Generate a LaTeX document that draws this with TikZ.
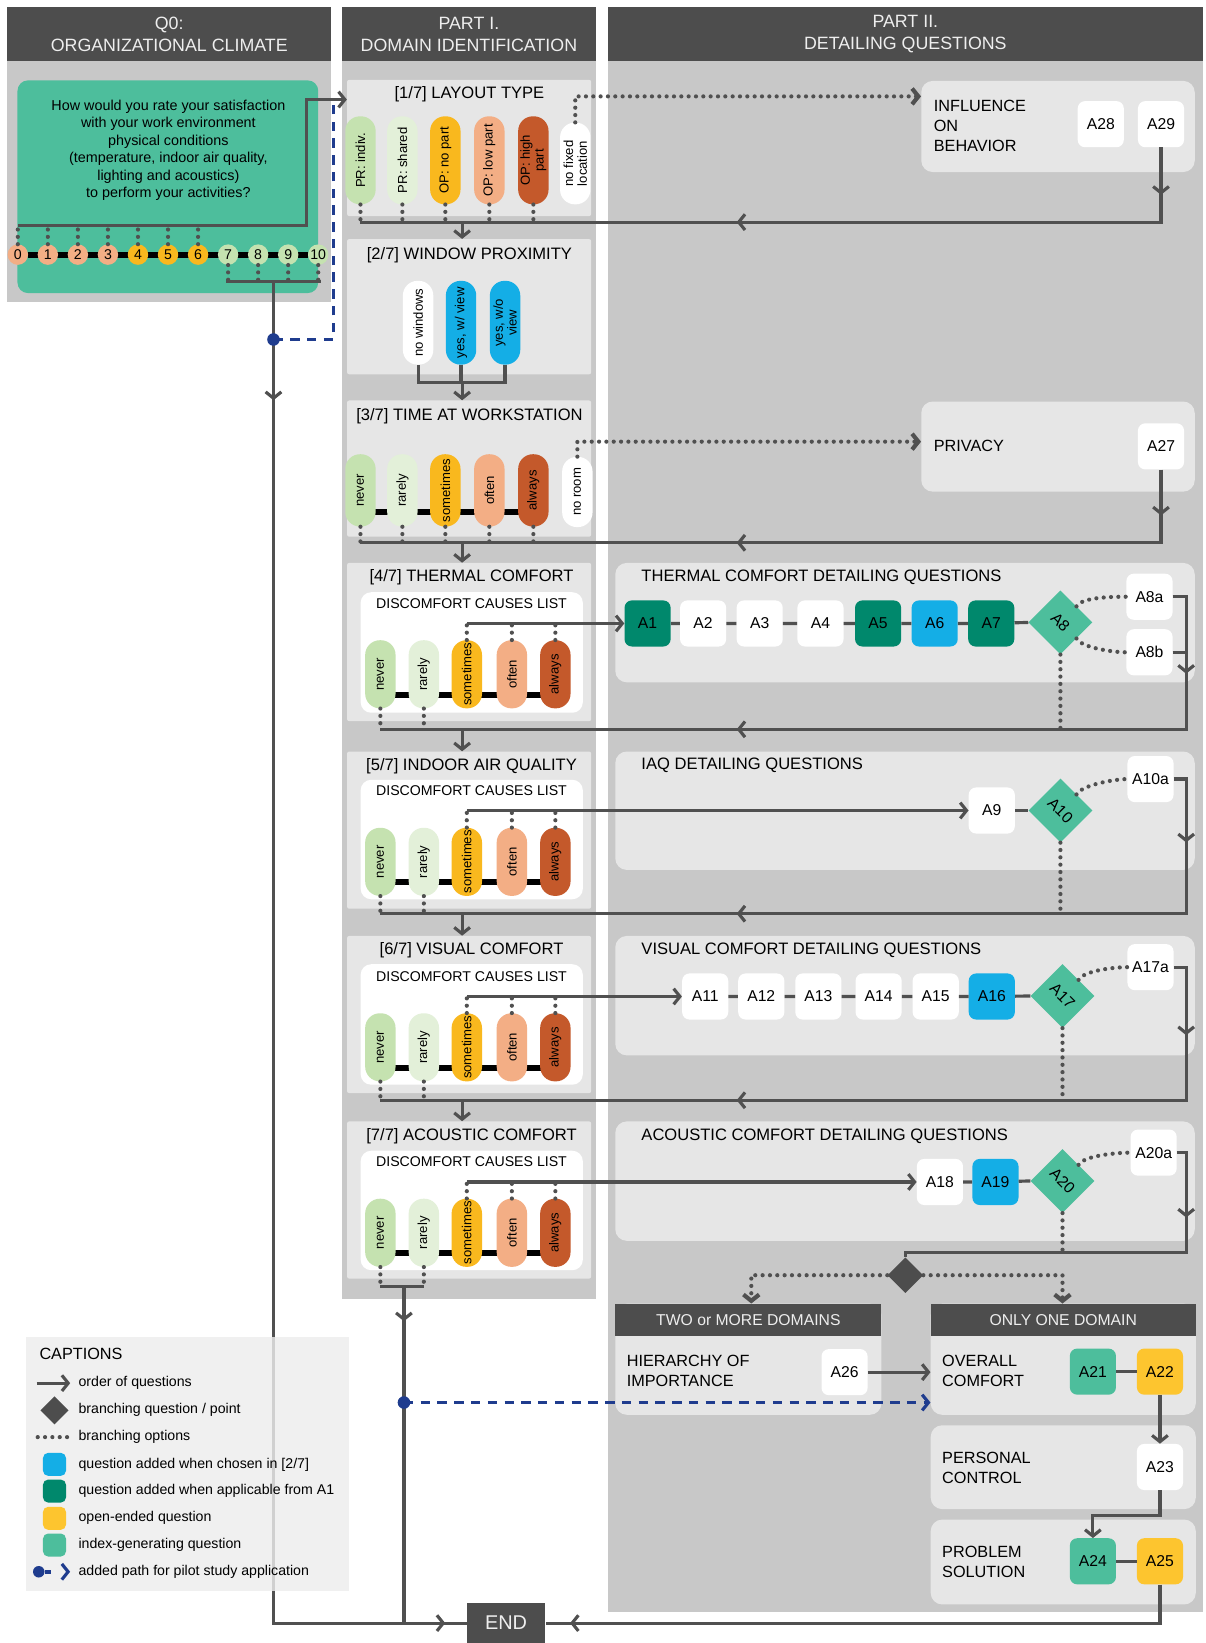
\documentclass[tikz,border=0pt]{standalone}
\usepackage{fontspec}
\setmainfont{Liberation Sans}
\usetikzlibrary{arrows.meta,shapes.geometric,calc}
\definecolor{hdr}{HTML}{4D4D4D}
\definecolor{colbg}{HTML}{C8C8C8}
\definecolor{boxbg}{HTML}{E6E6E6}
\definecolor{capbg}{HTML}{EDEDED}
\definecolor{ln}{HTML}{505050}
\definecolor{idx}{HTML}{4DBE9C}
\definecolor{dteal}{HTML}{00886C}
\definecolor{qblue}{HTML}{14AEE6}
\definecolor{oyel}{HTML}{FDC52F}
\definecolor{pyel}{HTML}{F9B81E}
\definecolor{salm}{HTML}{F3AE85}
\definecolor{dora}{HTML}{C4592B}
\definecolor{lgr}{HTML}{C5E2B0}
\definecolor{vlgr}{HTML}{E3F0D9}
\definecolor{pilot}{HTML}{1F3C8E}
\definecolor{htxt}{HTML}{EEEEEE}
\newcommand\fsz[2]{\fontsize{#1}{#2}\selectfont}
\pgfdeclarelayer{bg}
\pgfdeclarelayer{mid}
\pgfsetlayers{bg,mid,main}
\begin{document}
\begin{tikzpicture}[x=1pt,y=-1pt,
 conn/.style={draw=ln,line width=3pt},
 arr/.style={-{Straight Barb[length=6pt,width=15pt]}},
 dots/.style={draw=ln,line width=4pt,line cap=round,dash pattern=on 0pt off 7pt},
 pdash/.style={draw=pilot,line width=3pt,dash pattern=on 9pt off 7pt},
 blackbar/.style={draw=black,line width=5.5pt},
 hdrbox/.style={fill=hdr,text=htxt,inner sep=0pt,align=center,font=\fsz{17}{21}},
 pbox/.style={fill=boxbg,anchor=north west,inner sep=0pt,rounded corners=2pt},
 dbox/.style={fill=boxbg,anchor=north west,inner sep=0pt,rounded corners=11pt},
 wbox/.style={fill=white,anchor=north west,inner sep=0pt,rounded corners=10pt},
 ttl/.style={font=\fsz{15.8}{19}},
 subt/.style={font=\fsz{13.5}{16}},
 lbl/.style={font=\fsz{15.5}{19},align=left,anchor=west,inner sep=0pt},
 pill/.style={rotate=90,rounded corners=14pt,minimum height=29,inner sep=1pt,font=\fsz{12.5}{13},align=center},
 qn/.style={rounded corners=7pt,minimum width=44,minimum height=44,inner sep=0pt,font=\fsz{15}{18}},
 dia/.style={rectangle,fill=idx,minimum width=43,minimum height=43,rotate=-45,inner sep=0pt,font=\fsz{15}{18}},
 sc/.style={circle,minimum size=19.5,inner sep=0pt,font=\fsz{13.5}{14}},
 capt/.style={font=\fsz{13.5}{16},anchor=west,inner sep=0pt},
 chev/.pic={\draw[line width=3pt,draw=#1] (-6,-7.5) -- (0,0) -- (-6,7.5);},
]
\useasboundingbox (0,0) rectangle (1150,1568);
% ================= BACKGROUND LAYER =================
\begin{pgfonlayer}{bg}
\fill[white] (0,0) rectangle (1150,1568);
\fill[colbg] (7,58) rectangle (316,288);
\fill[colbg] (326,58) rectangle (569,1240);
\fill[colbg] (580,58) rectangle (1148,1538);
\node[fill=idx,anchor=north west,inner sep=0pt,rounded corners=10pt,minimum width=287,minimum height=203] (q0box) at (16.5,76.5) {};
% Part I boxes
\node[pbox,minimum width=233,minimum height=130] (lay) at (331,76) {};
\node[pbox,minimum width=233,minimum height=129] (win) at (331,228) {};
\node[pbox,minimum width=233,minimum height=130] (tim) at (331,382) {};
\node[pbox,minimum width=233,minimum height=151] (thb) at (331,537) {};
\node[pbox,minimum width=233,minimum height=150] (iab) at (331,717) {};
\node[pbox,minimum width=233,minimum height=150] (vib) at (331,893) {};
\node[pbox,minimum width=233,minimum height=150] (acb) at (331,1070) {};
\node[wbox,minimum width=212,minimum height=115] (thi) at (344,565) {};
\node[wbox,minimum width=212,minimum height=114] (iai) at (344,744) {};
\node[wbox,minimum width=212,minimum height=115] (vii) at (344,920) {};
\node[wbox,minimum width=212,minimum height=114] (aci) at (344,1098) {};
% Part II boxes
\node[dbox,minimum width=261,minimum height=87] (inf) at (879,77) {};
\node[dbox,minimum width=261,minimum height=86] (priv) at (879,383) {};
\node[dbox,minimum width=553,minimum height=114] (tdq) at (587,537) {};
\node[dbox,minimum width=553,minimum height=113] (idq) at (587,717) {};
\node[dbox,minimum width=553,minimum height=114] (vdq) at (587,893) {};
\node[dbox,minimum width=553,minimum height=114] (adq) at (587,1070) {};
\node[dbox,minimum width=254,minimum height=106] (twob) at (587,1244) {};
\node[dbox,minimum width=253,minimum height=106] (oc) at (888,1244) {};
\node[dbox,minimum width=253,minimum height=80] (pc) at (888,1360) {};
\node[dbox,minimum width=253,minimum height=81] (ps) at (888,1450) {};
\node[hdrbox,anchor=north west,minimum width=254,minimum height=31,font=\fsz{15}{18}] (twoh) at (587,1244) {TWO or MORE DOMAINS};
\node[hdrbox,anchor=north west,minimum width=253,minimum height=31,font=\fsz{15}{18}] (oneh) at (888,1244) {ONLY ONE DOMAIN};
\end{pgfonlayer}
% ================= HEADERS =================
\node[hdrbox,minimum width=309,minimum height=51] (h0) at (161.5,32.5) {Q0:\\ORGANIZATIONAL CLIMATE};
\node[hdrbox,minimum width=243,minimum height=51] (h1) at (447.5,32.5) {PART I.\\DOMAIN IDENTIFICATION};
\node[hdrbox,minimum width=568,minimum height=51] (h2) at (864,32.5) {PART II.\\DETAILING QUESTIONS};
\node[hdrbox,minimum width=75,minimum height=38,font=\fsz{19}{22}] (endbox) at (483,1549) {END};
% ================= Q0 =================
\node[font=\fsz{13.7}{16.6},align=center] (q0t) at (160.7,143.5) {How would you rate your satisfaction\\with your work environment\\physical conditions\\(temperature, indoor air quality,\\lighting and acoustics)\\to perform your activities?};
\foreach \i/\c in {0/salm,1/salm,2/salm,3/salm,4/pyel,5/pyel,6/pyel,7/lgr,8/lgr,9/lgr,10/lgr}
  \node[sc,fill=\c] (s\i) at ({17+28.67*\i},243) {\i};
\begin{pgfonlayer}{mid}
\draw[blackbar] (s0) -- (s10);
\end{pgfonlayer}
\coordinate (q0l) at (17,215);
\coordinate (q0c) at (292.5,215);
\coordinate (q0u) at (292.5,95);
\foreach \i in {0,...,6} \draw[dots] (s\i.north) -- (s\i.north |- q0l);
\coordinate (pdt) at (318,95);
\coordinate (pdc) at (318,324);
\coordinate (pd1) at (261,324);
\draw[pdash] (pd1) -- (pdc) -- (pdt);
\draw[conn,arr] (q0l) -- (q0c) -- (q0u) -- (q0u -| lay.west);
\coordinate (q0bl) at (216,269);
\coordinate (q0br) at (306,269);
\coordinate (q0bm) at (261,269);
\coordinate (endl) at (261,1549);
\foreach \i in {7,...,10} \draw[dots] (s\i.south) -- (s\i.south |- q0bl);
\draw[conn] (q0bl) -- (q0br);
\draw[conn] (q0bm) -- (endl) -- (endbox.west);
\pic[rotate=-90] at (261,380) {chev=ln};
\pic at (423,1549) {chev=ln};
\node[circle,fill=pilot,minimum size=12,inner sep=0pt] (pdot1) at (pd1) {};
% ================= PART I =================
\node[ttl] (tt1) at (448,90) {{}[1/7] LAYOUT TYPE};
\node[ttl] (tt2) at (448,244) {{}[2/7] WINDOW PROXIMITY};
\node[ttl] (tt3) at (448,397) {{}[3/7] TIME AT WORKSTATION};
\node[ttl] (tt4) at (450,551) {{}[4/7] THERMAL COMFORT};
\node[ttl] (tt5) at (450,731) {{}[5/7] INDOOR AIR QUALITY};
\node[ttl] (tt6) at (450,907) {{}[6/7] VISUAL COMFORT};
\node[ttl] (tt7) at (450,1084) {{}[7/7] ACOUSTIC COMFORT};
\node[subt] (st4) at (450,576) {DISCOMFORT CAUSES LIST};
\node[subt] (st5) at (450,755) {DISCOMFORT CAUSES LIST};
\node[subt] (st6) at (450,932) {DISCOMFORT CAUSES LIST};
\node[subt] (st7) at (450,1109) {DISCOMFORT CAUSES LIST};
% [1/7]
\node[pill,minimum width=84,fill=lgr] (l1) at (344,153) {PR: indiv.};
\node[pill,minimum width=84,fill=vlgr] (l2) at (384,153) {PR: shared};
\node[pill,minimum width=84,fill=pyel] (l3) at (425,153) {OP: no part};
\node[pill,minimum width=84,fill=salm] (l4) at (467,153) {OP: low part};
\node[pill,minimum width=84,fill=dora] (l5) at (509,153) {OP: high\\part};
\node[pill,minimum width=78,fill=white] (l6) at (549,156) {no fixed\\location};
\coordinate (lb) at (344,212);
\coordinate (ld) at (441,212);
\coordinate (lt) at (549,92);
\foreach \i in {1,...,5} \draw[dots] (l\i.west) -- (l\i.west |- lb);
\draw[dots,arr] (l6.east) -- (l6.east |- lt) -- (lt -| inf.west);
% [2/7]
\node[pill,minimum width=80,fill=white] (w1) at (399,308) {no windows};
\node[pill,minimum width=80,fill=qblue] (w2) at (440,308) {yes, w/ view};
\node[pill,minimum width=80,fill=qblue] (w3) at (482,308) {yes, w/o\\view};
\coordinate (wb) at (399,365);
\coordinate (wd) at (441,365);
\draw[conn] (w1.west) -- (w1.west |- wb) -- (w3.west |- wb) -- (w3.west);
\draw[conn] (w2.west) -- (w2.west |- wb);
\draw[conn,arr] (ld) -- (ld |- win.north);
\draw[conn,arr] (wd) -- (wd |- tim.north);
% [3/7]
\node[pill,minimum width=69,fill=lgr] (t1) at (344,468) {never};
\node[pill,minimum width=69,fill=vlgr] (t2) at (384,468) {rarely};
\node[pill,minimum width=69,fill=pyel] (t3) at (425,468) {sometimes};
\node[pill,minimum width=69,fill=salm] (t4) at (467,468) {often};
\node[pill,minimum width=69,fill=dora] (t5) at (509,468) {always};
\node[pill,minimum width=67,fill=white] (t6) at (551,469.5) {no room};
\begin{pgfonlayer}{mid}
\draw[blackbar] ($(t1)+(0,20.5)$) -- ($(t5)+(0,20.5)$);
\end{pgfonlayer}
\coordinate (tb) at (344,518);
\coordinate (tdn) at (441,518);
\coordinate (pt) at (551,421.5);
\foreach \i in {1,...,5} \draw[dots] (t\i.west) -- (t\i.west |- tb);
\draw[dots,arr] (t6.east) -- (t6.east |- pt) -- (pt -| priv.west);
\draw[conn,arr] (tdn) -- (tdn |- thb.north);
% [4/7]..[7/7] pills
\foreach \p/\o in {th/0,ia/179,vi/356,ac/533} {
  \node[pill,minimum width=65,fill=lgr] (\p1) at (363,643.5+\o) {never};
  \node[pill,minimum width=65,fill=vlgr] (\p2) at (404.5,643.5+\o) {rarely};
  \node[pill,minimum width=65,fill=pyel] (\p3) at (445.5,643.5+\o) {sometimes};
  \node[pill,minimum width=65,fill=salm] (\p4) at (488.5,643.5+\o) {often};
  \node[pill,minimum width=65,fill=dora] (\p5) at (530,643.5+\o) {always};
  \begin{pgfonlayer}{mid}
  \draw[blackbar] ($(\p1)+(0,19.5)$) -- ($(\p5)+(0,19.5)$);
  \end{pgfonlayer}
}
% ================= PART II =================
% Influence on behavior
\node[lbl] (tinf) at (891,120) {INFLUENCE\\ON\\BEHAVIOR};
\node[qn,fill=white] (a28) at (1050.5,118.5) {A28};
\node[qn,fill=white] (a29) at (1108,118.5) {A29};
\draw[conn] (a29.south) -- (a29.south |- lb) -- (lb);
\pic[rotate=-90] at (1108,184) {chev=ln};
\pic[rotate=180] at (705,212) {chev=ln};
% Privacy
\node[lbl] (tpriv) at (891,426) {PRIVACY};
\node[qn,fill=white] (a27) at (1108,426) {A27};
\draw[conn] (a27.south) -- (a27.south |- tb) -- (tb);
\pic[rotate=-90] at (1108,490) {chev=ln};
\pic[rotate=180] at (705,518) {chev=ln};
% Thermal
\node[ttl,anchor=west,inner sep=0pt] (ttdq) at (612,551) {THERMAL COMFORT DETAILING QUESTIONS};
\node[qn,fill=dteal] (a1) at (618,595) {A1};
\node[qn,fill=white] (a2) at (671,595) {A2};
\node[qn,fill=white] (a3) at (725,595) {A3};
\node[qn,fill=white] (a4) at (783,595) {A4};
\node[qn,fill=dteal] (a5) at (838,595) {A5};
\node[qn,fill=qblue] (a6) at (892,595) {A6};
\node[qn,fill=dteal] (a7) at (946,595) {A7};
\node[dia] (a8) at (1012,594) {A8};
\node[qn,fill=white] (a8a) at (1097,569.5) {A8a};
\node[qn,fill=white] (a8b) at (1097,622.5) {A8b};
\draw[conn] (a1) -- (a2) -- (a3) -- (a4) -- (a5) -- (a6) -- (a7) -- (a8.south west);
\draw[dots] (a8.north) .. controls +(5,-9) and +(-12,0) .. (a8a.west);
\draw[dots] (a8.east) .. controls +(5,9) and +(-12,0) .. (a8b.west);
\foreach \i in {3,4,5} \draw[dots] (th\i.east) -- (th\i.east |- a1.west);
\draw[conn,arr] (th3.east |- a1.west) -- (a1.west);
\coordinate (thl) at (363,696);
\coordinate (tvx) at (1132,696);
\coordinate (thd) at (441,696);
\draw[conn] (a8a.east) -- (a8a.east -| tvx) -- (tvx) -- (thl);
\draw[conn] (a8b.east) -- (a8b.east -| tvx);
\draw[dots] (a8.south east) -- (a8.south east |- tvx);
\foreach \i in {1,2} \draw[dots] (th\i.west) -- (th\i.west |- thl);
\draw[conn,arr] (thd) -- (thd |- iab.north);
\pic[rotate=-90] at (1132,641) {chev=ln};
\pic[rotate=180] at (705,696) {chev=ln};
% IAQ
\node[ttl,anchor=west,inner sep=0pt] (tidq) at (612,730) {IAQ DETAILING QUESTIONS};
\node[qn,fill=white] (a9) at (946.5,773.5) {A9};
\node[dia] (a10) at (1012,773.5) {A10};
\node[qn,fill=white] (a10a) at (1098,743.5) {A10a};
\draw[conn] (a9) -- (a10.south west);
\draw[dots] (a10.north) .. controls +(5,-9) and +(-12,0) .. (a10a.west);
\foreach \i in {3,4,5} \draw[dots] (ia\i.east) -- (ia\i.east |- a9.west);
\draw[conn,arr] (ia3.east |- a9.west) -- (a9.west);
\coordinate (ial) at (363,872);
\coordinate (ivx) at (1132,872);
\coordinate (iad) at (441,872);
\draw[conn] (a10a.east) -- (a10a.east -| ivx) -- (ivx) -- (ial);
\draw[dots] (a10.south east) -- (a10.south east |- ivx);
\foreach \i in {1,2} \draw[dots] (ia\i.west) -- (ia\i.west |- ial);
\draw[conn,arr] (iad) -- (iad |- vib.north);
\pic[rotate=-90] at (1132,802) {chev=ln};
\pic[rotate=180] at (705,872) {chev=ln};
% Visual
\node[ttl,anchor=west,inner sep=0pt] (tvdq) at (612,907) {VISUAL COMFORT DETAILING QUESTIONS};
\node[qn,fill=white] (a11) at (673,951) {A11};
\node[qn,fill=white] (a12) at (726.5,951) {A12};
\node[qn,fill=white] (a13) at (781,951) {A13};
\node[qn,fill=white] (a14) at (838.5,951) {A14};
\node[qn,fill=white] (a15) at (893,951) {A15};
\node[qn,fill=qblue] (a16) at (946.5,951) {A16};
\node[dia] (a17) at (1014,950.5) {A17};
\node[qn,fill=white] (a17a) at (1098,923) {A17a};
\draw[conn] (a11) -- (a12) -- (a13) -- (a14) -- (a15) -- (a16) -- (a17.south west);
\draw[dots] (a17.north) .. controls +(5,-9) and +(-12,0) .. (a17a.west);
\foreach \i in {3,4,5} \draw[dots] (vi\i.east) -- (vi\i.east |- a11.west);
\draw[conn,arr] (vi3.east |- a11.west) -- (a11.west);
\coordinate (vil) at (363,1050);
\coordinate (vvx) at (1132,1050);
\coordinate (vid) at (441,1050);
\draw[conn] (a17a.east) -- (a17a.east -| vvx) -- (vvx) -- (vil);
\draw[dots] (a17.south east) -- (a17.south east |- vvx);
\foreach \i in {1,2} \draw[dots] (vi\i.west) -- (vi\i.west |- vil);
\draw[conn,arr] (vid) -- (vid |- acb.north);
\pic[rotate=-90] at (1132,986) {chev=ln};
\pic[rotate=180] at (705,1050) {chev=ln};
% Acoustic
\node[ttl,anchor=west,inner sep=0pt] (tadq) at (612,1084) {ACOUSTIC COMFORT DETAILING QUESTIONS};
\node[qn,fill=white] (a18) at (897,1128) {A18};
\node[qn,fill=qblue] (a19) at (950,1128) {A19};
\node[dia] (a20) at (1014,1127) {A20};
\node[qn,fill=white] (a20a) at (1101,1100) {A20a};
\draw[conn] (a18) -- (a19) -- (a20.south west);
\draw[dots] (a20.north) .. controls +(5,-9) and +(-12,0) .. (a20a.west);
\foreach \i in {3,4,5} \draw[dots] (ac\i.east) -- (ac\i.east |- a18.west);
\draw[conn,arr] (ac3.east |- a18.west) -- (a18.west);
\node[diamond,fill=hdr,minimum width=34,minimum height=34,inner sep=0pt] (bd) at (864,1217) {};
\coordinate (ax) at (1132,1195);
\draw[conn] (a20a.east) -- (a20a.east -| ax) -- (ax) -- (ax -| bd.north) -- (bd.north);
\draw[dots] (a20.south east) -- (a20.south east |- ax);
\pic[rotate=-90] at (1132,1160) {chev=ln};
\coordinate (bl) at (717,1217);
\coordinate (br) at (1014,1217);
\draw[dots,arr] (bd.west) -- (bl) -- (bl |- twoh.north);
\draw[dots,arr] (bd.east) -- (br) -- (br |- oneh.north);
% acoustic bottom
\coordinate (ab) at (363,1228);
\coordinate (abm) at (385.5,1228);
\coordinate (abe) at (385.5,1549);
\coordinate (pd2) at (385.5,1338.5);
\foreach \i in {1,2} \draw[dots] (ac\i.west) -- (ac\i.west |- ab);
\draw[conn] (ac1.west |- ab) -- (ac2.west |- ab);
\draw[conn] (abm) -- (abe);
\pic[rotate=-90] at (385.5,1259) {chev=ln};
% final section
\node[lbl] (thi2) at (598,1308) {HIERARCHY OF\\IMPORTANCE};
\node[qn,fill=white] (a26) at (806,1309.5) {A26};
\node[lbl] (toc) at (899,1308) {OVERALL\\COMFORT};
\node[qn,fill=idx] (a21) at (1043,1309) {A21};
\node[qn,fill=oyel] (a22) at (1107,1309) {A22};
\node[lbl] (tpc) at (899,1401) {PERSONAL\\CONTROL};
\node[qn,fill=white] (a23) at (1107,1400) {A23};
\node[lbl] (tps) at (899,1490.5) {PROBLEM\\SOLUTION};
\node[qn,fill=idx] (a24) at (1043,1490) {A24};
\node[qn,fill=oyel] (a25) at (1107,1490) {A25};
\draw[conn,arr] (a26) -- (a26 -| oc.west);
\draw[conn] (a21) -- (a22);
\draw[conn,arr] (a22) -- (a23);
\coordinate (j1) at (1107,1446);
\coordinate (j2) at (1043,1446);
\draw[conn,arr] (a23.south) -- (j1) -- (j2) -- (a24.north);
\draw[conn] (a24) -- (a25);
\draw[conn] (a25.south) -- (a25.south |- endbox.east) -- (endbox.east);
\pic[rotate=180] at (546,1549) {chev=ln};
\draw[pdash,-{Straight Barb[length=6pt,width=15pt]}] (pd2) -- (pd2 -| oc.west);
\node[circle,fill=pilot,minimum size=12,inner sep=0pt] (pdot2) at (pd2) {};
% ================= CAPTIONS =================
\node[fill=capbg,fill opacity=0.82,anchor=north west,minimum width=308,minimum height=243,inner sep=0pt] (cap) at (25,1275.5) {};
\node[font=\fsz{15.5}{18},anchor=west,inner sep=0pt] (capt0) at (37.5,1292) {CAPTIONS};
\coordinate (c1a) at (35,1320);
\coordinate (c1b) at (67,1320);
\draw[conn,arr] (c1a) -- (c1b);
\node[diamond,fill=hdr,minimum width=27,minimum height=27,inner sep=0pt] (c2) at (52,1346) {};
\coordinate (c3a) at (36,1371.5);
\coordinate (c3b) at (66,1371.5);
\draw[dots] (c3a) -- (c3b);
\node[rounded corners=5pt,minimum size=22,inner sep=0pt,fill=qblue] (c4) at (52,1397.5) {};
\node[rounded corners=5pt,minimum size=22,inner sep=0pt,fill=dteal] (c5) at (52,1423) {};
\node[rounded corners=5pt,minimum size=22,inner sep=0pt,fill=oyel] (c6) at (52,1449) {};
\node[rounded corners=5pt,minimum size=22,inner sep=0pt,fill=idx] (c7) at (52,1474.5) {};
\node[circle,fill=pilot,minimum size=11,inner sep=0pt] (c8) at (37,1500) {};
\coordinate (c8b) at (49,1500);
\draw[draw=pilot,line width=3.5pt] (c8) -- (c8b);
\pic at (65,1500) {chev=pilot};
\node[capt] (k1) at (74.8,1320) {order of questions};
\node[capt] (k2) at (74.8,1345.6) {branching question / point};
\node[capt] (k3) at (74.8,1371.7) {branching options};
\node[capt] (k4) at (74.8,1397.5) {question added when chosen in [2/7]};
\node[capt] (k5) at (74.8,1423) {question added when applicable from A1};
\node[capt] (k6) at (74.8,1449) {open-ended question};
\node[capt] (k7) at (74.8,1474.5) {index-generating question};
\node[capt] (k8) at (74.8,1500) {added path for pilot study application};
\end{tikzpicture}
\end{document}
